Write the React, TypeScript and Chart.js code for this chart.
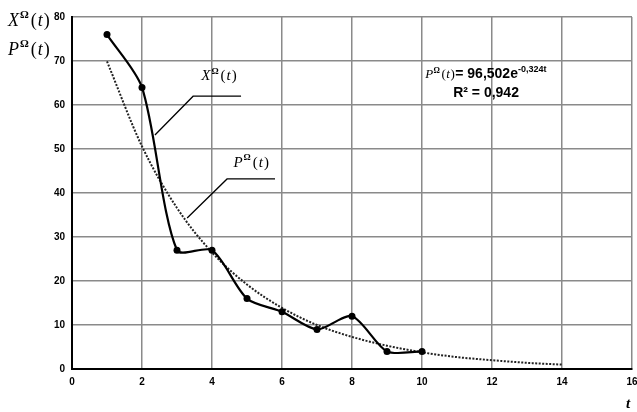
import React, { useEffect, useRef } from "react";
import { Chart, registerables } from "chart.js";

Chart.register(...registerables);

const tValues = [1, 2, 3, 4, 5, 6, 7, 8, 9, 10];
const xValues = [76, 64, 27, 27, 16, 13, 9, 12, 4, 4];
const trendT = [1, 2, 3, 4, 5, 6, 7, 8, 9, 10, 11, 12, 13, 14];
const trendValues = [69.9, 50.6, 36.6, 26.5, 19.2, 13.9, 10.0, 7.3, 5.3, 3.8, 2.7, 2.0, 1.4, 1.0];
const xTicks = [0, 2, 4, 6, 8, 10, 12, 14, 16];
const yTicks = [0, 10, 20, 30, 40, 50, 60, 70, 80];
const equationText = "= 96,502e";
const equationExp = "-0,324t";
const r2Text = "R² = 0,942";

const SERIF = '"Liberation Serif", "DejaVu Serif", serif';
const NARROW = '"Liberation Sans Narrow", "Arial Narrow", "Liberation Sans", sans-serif';

type Seg = { text: string; font: string; dy?: number; dx?: number };

function drawSegs(ctx: CanvasRenderingContext2D, segs: Seg[], x: number, y: number, align: "left" | "center" | "right") {
  let total = 0;
  for (const s of segs) {
    ctx.font = s.font;
    total += ctx.measureText(s.text).width + (s.dx || 0);
  }
  let cx = align === "left" ? x : align === "center" ? x - total / 2 : x - total;
  ctx.textAlign = "left";
  ctx.textBaseline = "alphabetic";
  for (const s of segs) {
    ctx.font = s.font;
    cx += s.dx || 0;
    ctx.fillText(s.text, cx, y + (s.dy || 0));
    cx += ctx.measureText(s.text).width;
  }
}

function mathSegs(letter: string, size: number): Seg[] {
  return [
    { text: letter, font: `italic ${size}px ${SERIF}` },
    { text: "Ω", font: `bold ${Math.round(size * 0.6)}px ${SERIF}`, dy: -size * 0.45, dx: 1 },
    { text: "(", font: `${size}px ${SERIF}`, dx: 2 },
    { text: "t", font: `italic ${size}px ${SERIF}`, dx: 1 },
    { text: ")", font: `${size}px ${SERIF}`, dx: 1 },
  ];
}

const annotationPlugin = {
  id: "annotations",
  afterDraw(chart: any) {
    const ctx: CanvasRenderingContext2D = chart.ctx;
    const xs = chart.scales.x;
    const ys = chart.scales.y;
    const px = (v: number) => xs.getPixelForValue(v);
    const py = (v: number) => ys.getPixelForValue(v);
    ctx.save();
    ctx.fillStyle = "#000";
    ctx.strokeStyle = "#000";
    ctx.lineWidth = 1.3;

    // leader for X
    ctx.beginPath();
    ctx.moveTo(px(2.37), py(53.2));
    ctx.lineTo(px(3.46), py(62.0));
    ctx.lineTo(px(4.83), py(62.0));
    ctx.stroke();
    drawSegs(ctx, mathSegs("X", 15), px(4.2), py(65.6), "center");

    // leader for P
    ctx.beginPath();
    ctx.moveTo(px(3.29), py(34.3));
    ctx.lineTo(px(4.43), py(43.2));
    ctx.lineTo(px(5.8), py(43.2));
    ctx.stroke();
    drawSegs(ctx, mathSegs("P", 15), px(5.12), py(45.9), "center");

    // equation
    const eqSegs: Seg[] = [
      { text: "P", font: `italic 13px ${SERIF}` },
      { text: "Ω", font: `bold 8px ${SERIF}`, dy: -5, dx: 0.5 },
      { text: "(", font: `13px ${SERIF}`, dx: 1.5 },
      { text: "t", font: `italic 13px ${SERIF}`, dx: 0.5 },
      { text: ")", font: `13px ${SERIF}`, dx: 0.5 },
      { text: equationText, font: `bold 14px ${NARROW}`, dx: 0.5 },
      { text: equationExp, font: `bold 9px ${NARROW}`, dy: -6 },
    ];
    drawSegs(ctx, eqSegs, px(10.09), py(66.2), "left");
    drawSegs(ctx, [{ text: r2Text, font: `bold 14px ${NARROW}` }], px(11.83), py(61.9), "center");

    // axis titles
    drawSegs(ctx, mathSegs("X", 18), 8, 26, "left");
    drawSegs(ctx, mathSegs("P", 18), 8, 55, "left");
    drawSegs(ctx, [{ text: "t", font: `bold italic 15px ${SERIF}` }], 628, 408, "center");
    ctx.restore();
  },
};

export default function App() {
  const ref = useRef<HTMLCanvasElement | null>(null);
  useEffect(() => {
    document.body.style.margin = "0";
    const canvas = ref.current!;
    const chart = new Chart(canvas, {
      type: "line",
      data: {
        datasets: [
          {
            label: "X",
            data: tValues.map((t, i) => ({ x: t, y: xValues[i] })),
            borderColor: "#000",
            backgroundColor: "#000",
            borderWidth: 2.2,
            pointRadius: 3.5,
            pointBackgroundColor: "#000",
            pointBorderWidth: 0,
            tension: 0.27,
            order: 1,
          },
          {
            label: "P",
            data: trendT.map((t, i) => ({ x: t, y: trendValues[i] })),
            borderColor: "#222",
            borderWidth: 2,
            borderDash: [2, 1.5],
            pointRadius: 0,
            cubicInterpolationMode: "monotone",
            order: 2,
          },
        ],
      },
      options: {
        responsive: false,
        animation: false,
        devicePixelRatio: 1,
        layout: { padding: { left: 0, top: 17, right: 5, bottom: 0 } },
        plugins: { legend: { display: false }, tooltip: { enabled: false } },
        scales: {
          x: {
            type: "linear",
            min: 0,
            max: 16,
            afterBuildTicks: (scale: any) => {
              scale.ticks = xTicks.map((v) => ({ value: v }));
            },
            afterFit: (scale: any) => {
              scale.height = 43;
              scale.paddingLeft = 0;
              scale.paddingRight = 0;
            },
            ticks: {
              color: "#000",
              font: { family: NARROW, size: 10, weight: "bold" },
              padding: 7,
              maxRotation: 0,
              autoSkip: false,
            },
            grid: { color: "#8a8a8a", lineWidth: 1.5, drawTicks: false },
            border: { color: "#000", width: 2 },
          },
          y: {
            min: 0,
            max: 80,
            afterBuildTicks: (scale: any) => {
              scale.ticks = yTicks.map((v) => ({ value: v }));
            },
            afterFit: (scale: any) => {
              scale.width = 72;
              scale.paddingTop = 0;
              scale.paddingBottom = 0;
            },
            ticks: {
              color: "#000",
              font: { family: NARROW, size: 10, weight: "bold" },
              padding: 7,
            },
            grid: { color: "#8a8a8a", lineWidth: 1.5, drawTicks: false },
            border: { color: "#000", width: 2 },
          },
        },
      },
      plugins: [annotationPlugin],
    } as any);
    return () => chart.destroy();
  }, []);
  return <canvas ref={ref} width={637} height={412} style={{ display: "block" }} />;
}
